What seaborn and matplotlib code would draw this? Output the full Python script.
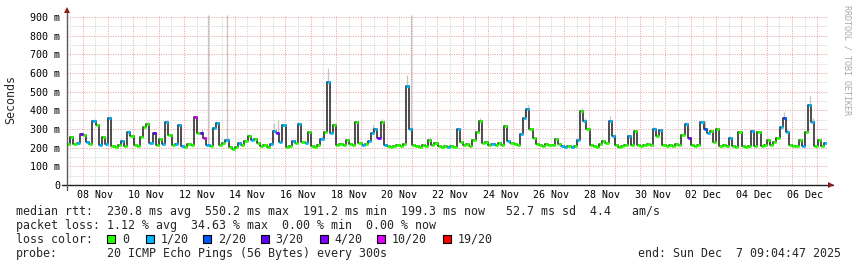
import numpy as np
import pandas as pd
import matplotlib
matplotlib.use("Agg")
import matplotlib.pyplot as plt
import matplotlib.dates as mdates
import matplotlib.patches as mpatches
import seaborn as sns

# ---------------- data ----------------
start_time = "2025-11-07 09:04:47"
end_time = "2025-12-07 09:04:47"
step_hours = 3

median_ms = [
    220, 255, 220, 225, 275, 270, 230, 220, 345, 320,
    215, 255, 220, 360, 210, 205, 215, 235, 210, 285,
    260, 215, 210, 255, 310, 325, 225, 280, 215, 245,
    220, 340, 270, 215, 220, 320, 210, 205, 220, 215,
    365, 280, 280, 250, 215, 210, 305, 330, 215, 225,
    240, 205, 195, 205, 225, 215, 235, 265, 240, 245,
    225, 210, 215, 205, 220, 290, 280, 230, 320, 205,
    210, 235, 225, 325, 230, 225, 285, 210, 205, 215,
    245, 285, 550, 280, 320, 215, 220, 215, 240, 220,
    215, 335, 225, 215, 220, 235, 280, 300, 250, 340,
    215, 210, 205, 210, 215, 210, 220, 530, 300, 215,
    210, 205, 215, 210, 240, 215, 225, 210, 205, 210,
    205, 210, 205, 300, 230, 215, 220, 210, 240, 285,
    345, 225, 230, 215, 220, 215, 225, 215, 315, 235,
    225, 220, 215, 275, 360, 405, 300, 250, 220, 215,
    210, 220, 215, 215, 245, 220, 210, 205, 210, 205,
    210, 240, 395, 345, 300, 215, 210, 205, 220, 235,
    225, 345, 260, 215, 205, 210, 215, 260, 215, 290,
    215, 210, 215, 220, 215, 300, 260, 295, 215, 210,
    215, 210, 220, 215, 270, 325, 250, 215, 210, 215,
    335, 300, 280, 290, 230, 300, 210, 215, 210, 250,
    210, 205, 285, 210, 205, 210, 290, 210, 285, 210,
    215, 240, 215, 230, 250, 310, 360, 285, 215, 210,
    210, 240, 210, 285, 430, 340, 210, 240, 210, 225,
]

# index into loss_labels / loss_colors
loss_level = [
    0, 0, 0, 1, 4, 0, 1, 0, 1, 0,
    1, 0, 1, 1, 0, 0, 0, 1, 0, 1,
    0, 0, 0, 0, 0, 0, 1, 3, 0, 0,
    1, 1, 0, 0, 1, 1, 1, 0, 0, 0,
    5, 0, 3, 5, 1, 0, 1, 1, 0, 0,
    1, 0, 0, 0, 1, 0, 0, 0, 1, 0,
    0, 0, 0, 0, 1, 1, 4, 1, 1, 0,
    0, 1, 0, 1, 0, 1, 0, 0, 0, 0,
    1, 0, 1, 1, 0, 0, 0, 0, 0, 0,
    0, 0, 0, 1, 0, 1, 1, 1, 4, 0,
    1, 0, 0, 0, 0, 0, 0, 1, 1, 0,
    0, 0, 0, 0, 0, 0, 0, 0, 0, 0,
    1, 0, 0, 1, 0, 0, 0, 0, 0, 0,
    0, 0, 0, 0, 1, 0, 0, 0, 0, 1,
    0, 0, 0, 1, 1, 1, 0, 0, 0, 0,
    0, 0, 0, 0, 0, 0, 1, 1, 0, 1,
    0, 1, 0, 1, 0, 0, 0, 0, 0, 0,
    0, 1, 1, 0, 0, 0, 0, 1, 0, 0,
    0, 0, 0, 0, 0, 1, 0, 1, 0, 0,
    0, 0, 0, 0, 0, 1, 4, 0, 0, 0,
    1, 2, 1, 0, 0, 0, 0, 0, 0, 1,
    0, 0, 0, 0, 0, 0, 1, 0, 0, 0,
    0, 0, 0, 0, 0, 1, 2, 1, 0, 0,
    0, 0, 1, 0, 1, 1, 0, 0, 0, 1,
]

# "smoke": highest ping of the interval, where it stands out
smoke_idx = [8, 13, 19, 25, 31, 40, 42, 44, 50, 57, 65, 66, 73, 80, 82, 84, 96, 99,
             107, 108, 114, 130, 138, 144, 145, 162, 163, 171, 177, 185, 187, 195,
             201, 209, 226, 227, 234, 235]
smoke_top_ms = [355, 370, 295, 345, 350, 370, 300, 910, 910, 275, 330, 350, 340, 260,
                625, 330, 320, 355, 590, 910, 255, 360, 320, 400, 430, 410, 360, 370,
                275, 310, 300, 340, 345, 265, 390, 300, 475, 360]

loss_labels = ["0", "1/20", "2/20", "3/20", "4/20", "10/20", "19/20"]
loss_colors = ["#26ff00", "#00b8ff", "#0059ff", "#5e00ff", "#7e00ff", "#dd00ff", "#ff0000"]

y_tick_values = [0, 100, 200, 300, 400, 500, 600, 700, 800, 900]
y_tick_labels = ["0", "100 m", "200 m", "300 m", "400 m", "500 m", "600 m", "700 m", "800 m", "900 m"]

legend_rtt = "median rtt:  230.8 ms avg  550.2 ms max  191.2 ms min  199.3 ms now   52.7 ms sd  4.4   am/s"
legend_loss = "packet loss: 1.12 % avg  34.63 % max  0.00 % min  0.00 % now"
legend_color_title = "loss color:"
legend_probe_title = "probe:"
legend_probe = "20 ICMP Echo Pings (56 Bytes) every 300s"
legend_end = "end: Sun Dec  7 09:04:47 2025"
y_title = "Seconds"
watermark = "RRDTOOL / TOBI OETIKER"

# ---------------- figure ----------------
sns.set_style("white")
plt.rcParams["font.family"] = ["DejaVu Sans Mono", "DejaVu Sans"]

W, H = 857, 267
fig = plt.figure(figsize=(W / 100, H / 100), dpi=100, facecolor="white")


def fx(px):
    return px / W


def fy(py):
    return 1 - py / H


L, R, T, B = 67, 827, 15, 185
ax = fig.add_axes([fx(L), fy(B), fx(R) - fx(L), fy(T) - fy(B)])
ax.set_facecolor("white")

t0 = pd.Timestamp(start_time)
t1 = pd.Timestamp(end_time)
times = pd.date_range(t0 + pd.Timedelta(hours=step_hours / 2), periods=len(median_ms),
                      freq=f"{step_hours}h")
df = pd.DataFrame({"time": times, "median": median_ms, "loss": loss_level})

ymax = (B - T) / ((B - 0) - 17) * 900  # 900 m gridline sits at y=17 px
ax.set_ylim(0, ymax)
ax.set_xlim(t0, t1)

# grid (behind data)
red_grid = "#e9a2a2"
gray_grid = "#cfcfcf"
dots = (0, (1, 1.4))
midnights = pd.date_range(t0.normalize() + pd.Timedelta(days=1), t1, freq="1D")
noons = pd.date_range(t0.normalize() + pd.Timedelta(hours=12), t1, freq="1D")
ax.vlines(mdates.date2num(noons), 0, ymax, colors=gray_grid, linestyles=dots, lw=0.72, zorder=0)
ax.vlines(mdates.date2num(midnights), 0, ymax, colors=red_grid, linestyles=dots, lw=0.72, zorder=0)
ax.hlines(np.arange(50, 900, 100), mdates.date2num(t0), mdates.date2num(t1),
          colors=gray_grid, linestyles=dots, lw=0.72, zorder=0)
ax.hlines(y_tick_values[1:], mdates.date2num(t0), mdates.date2num(t1),
          colors=red_grid, linestyles=dots, lw=0.72, zorder=0)

# smoke
tn = mdates.date2num(times)
ax.vlines(tn[smoke_idx], [median_ms[i] for i in smoke_idx], smoke_top_ms,
          colors="#c4c4c4", lw=0.9, zorder=1)

# median line
sns.lineplot(data=df, x="time", y="median", ax=ax, color="#1c1c1c", lw=1.1,
             drawstyle="steps-mid", estimator=None, sort=False, zorder=2)

# loss-coloured median segments
half = step_hours / 48.0
for lvl, col in enumerate(loss_colors):
    sel = df["loss"].values == lvl
    if sel.any():
        ax.hlines(df["median"].values[sel], tn[sel] - half, tn[sel] + half,
                  colors=col, lw=2.0, zorder=3)

# axes decoration
for s in ax.spines.values():
    s.set_visible(False)
ax.set_xlabel("")
ax.set_ylabel("")

label_days = pd.date_range("2025-11-08 12:00", "2025-12-06 12:00", freq="2D")
ax.set_xticks(mdates.date2num(label_days))
ax.xaxis.set_major_formatter(mdates.DateFormatter("%d %b"))
ax.set_xticks(mdates.date2num(midnights), minor=True)
ax.tick_params(axis="x", which="major", length=0, pad=3.6, labelsize=7.2, labelcolor="#000000")
ax.tick_params(axis="x", which="minor", length=2, width=0.7, color="#e07070", direction="out")

ax.set_yticks(y_tick_values)
ax.set_yticklabels(y_tick_labels)
ax.tick_params(axis="y", which="major", length=1.5, width=0.7, color="#e07070", pad=3.5,
               labelsize=7.2, labelcolor="#000000")

# axis lines with arrows
axis_col = "#202020"
ax.plot([-(L - 62) / (R - L), (833 - L) / (R - L)], [0, 0], transform=ax.transAxes,
        color=axis_col, lw=1.0, clip_on=False, zorder=5)
ax.plot([0, 0], [-(190 - B) / (B - T), 1 + (T - 12) / (B - T)], transform=ax.transAxes,
        color="#5a5a5a", lw=1.0, clip_on=False, zorder=5)
arrow_col = "#8c1c1c"
ax.plot([(831 - L) / (R - L)], [0], transform=ax.transAxes, marker=">", ms=4.2,
        color=arrow_col, clip_on=False, zorder=6, mew=0)
ax.plot([0], [1 + (T - 10) / (B - T)], transform=ax.transAxes, marker="^", ms=4.2,
        color=arrow_col, clip_on=False, zorder=6, mew=0)

# titles
fig.text(fx(11), fy(99), y_title, rotation=90, ha="center", va="center", fontsize=8.4)
fig.text(fx(847), fy(5), watermark, rotation=270, ha="center", va="top",
         fontsize=6.0, color="#a8a8a8")

# legend block
lfs = 8.4
fig.text(fx(16), fy(214.5), legend_rtt, ha="left", va="baseline", fontsize=lfs)
fig.text(fx(16), fy(228.7), legend_loss, ha="left", va="baseline", fontsize=lfs)
fig.text(fx(16), fy(243), legend_color_title, ha="left", va="baseline", fontsize=lfs)
fig.text(fx(16), fy(257.2), legend_probe_title, ha="left", va="baseline", fontsize=lfs)
fig.text(fx(107.3), fy(257.2), legend_probe, ha="left", va="baseline", fontsize=lfs)
fig.text(fx(841), fy(257.2), legend_end, ha="right", va="baseline", fontsize=lfs)

box_left = [107.3, 145.7, 203.3, 261.0, 320.0, 377.3, 442.7]
for xl, lab, col in zip(box_left, loss_labels, loss_colors):
    fig.patches.append(mpatches.Rectangle((fx(xl), fy(243)), 8 / W, 8 / H,
                                          transform=fig.transFigure, facecolor=col,
                                          edgecolor="#000000", lw=0.8))
    fig.text(fx(xl + 14.5), fy(243), lab, ha="left", va="baseline", fontsize=lfs)

fig.savefig("out.png", dpi=100, facecolor="white")
